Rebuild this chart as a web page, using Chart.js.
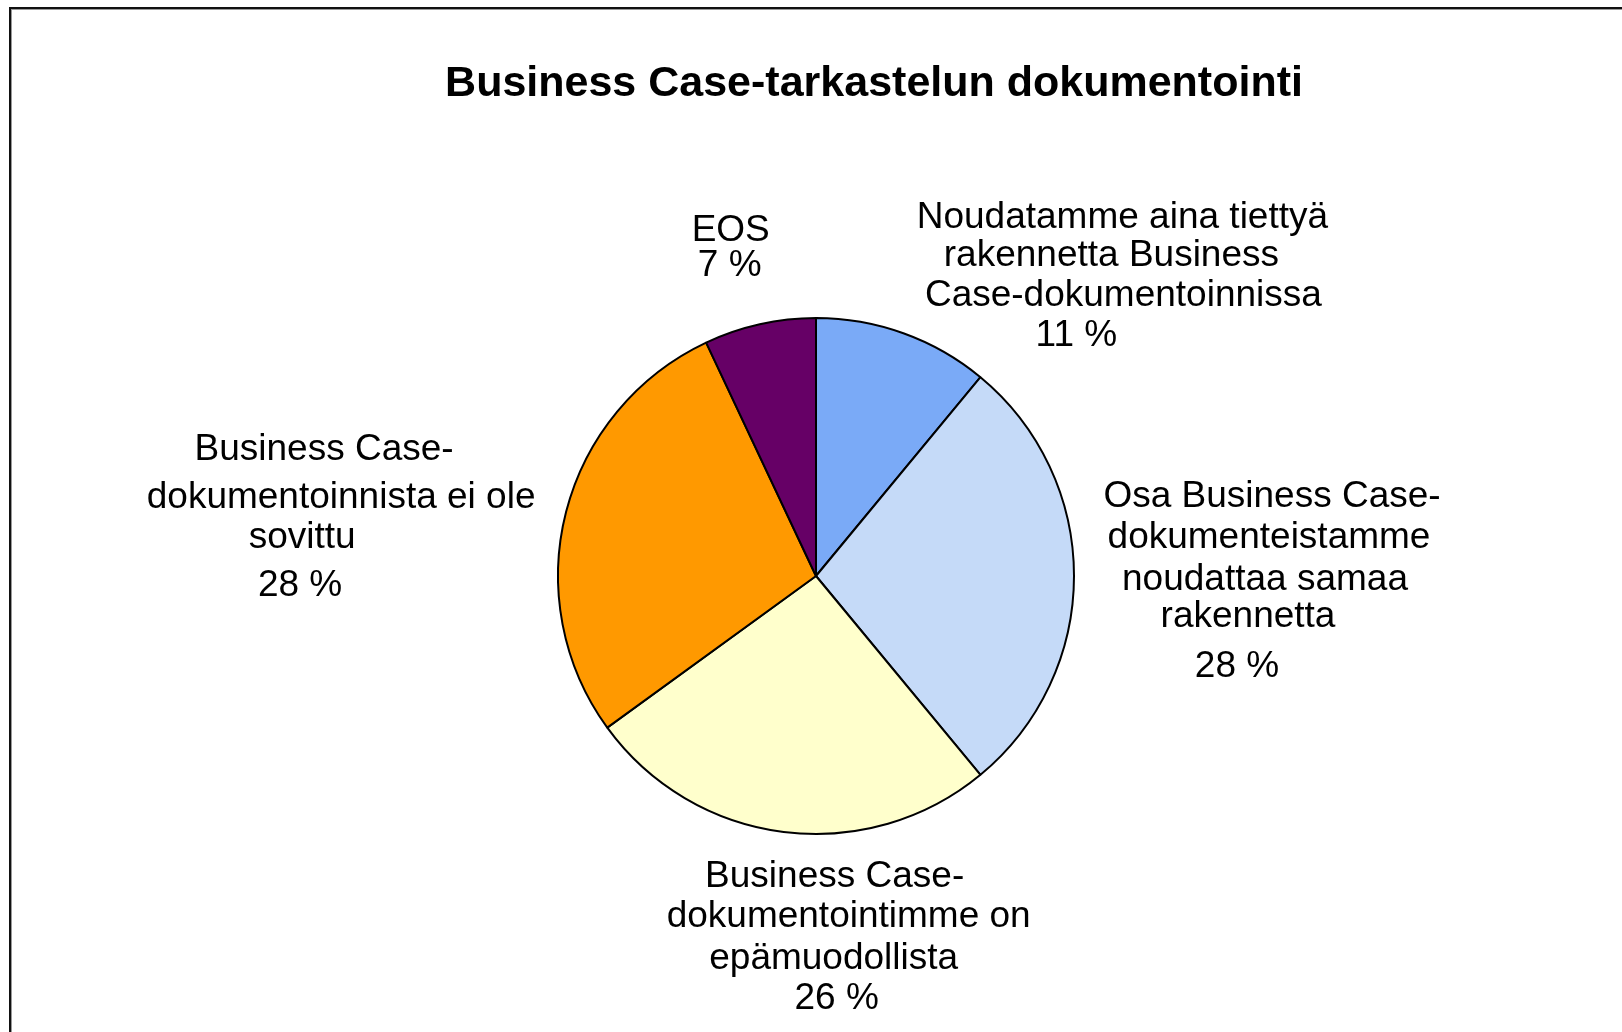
<!DOCTYPE html>
<html lang="fi">
<head>
<meta charset="utf-8">
<title>Business Case-tarkastelun dokumentointi</title>
<script src="https://cdn.jsdelivr.net/npm/chart.js@4.4.1/dist/chart.umd.min.js"></script>
<style>
  html, body { margin: 0; padding: 0; background: #fff; overflow: hidden; }
  #frame {
    position: absolute; left: 9px; top: 7px; width: 1700px; height: 1100px;
    border-left: 2px solid #111; border-top: 2px solid #111;
    box-shadow: inset 1px 1px 0 #999;
  }
  #wrap { position: absolute; left: 0; top: 0; width: 1622px; height: 1032px; }
</style>
</head>
<body>
<div id="frame"></div>
<div id="wrap"><canvas id="pie"></canvas></div>
<script>
const chartTitle = 'Business Case-tarkastelun dokumentointi';
const categories = [
  'Noudatamme aina tiettyä rakennetta Business Case-dokumentoinnissa',
  'Osa Business Case-dokumenteistamme noudattaa samaa rakennetta',
  'Business Case-dokumentointimme on epämuodollista',
  'Business Case-dokumentoinnista ei ole sovittu',
  'EOS'
];
const shares = [11, 28, 26, 28, 7];
// label text as it wraps in the picture
const labelLines = [
  ['Noudatamme aina tiettyä', 'rakennetta Business', 'Case-dokumentoinnissa'],
  ['Osa Business Case-', 'dokumenteistamme', 'noudattaa samaa', 'rakennetta'],
  ['Business Case-', 'dokumentointimme on', 'epämuodollista'],
  ['Business Case-', 'dokumentoinnista ei ole', 'sovittu'],
  ['EOS']
];
const sliceColors = ['#7AAAF7', '#C5DAF8', '#FFFFCC', '#FF9900', '#660066'];

// offsets of each label line (last one = percentage) from the slice's outer mid point
const labelNudges = [
  [[219, -105], [208, -67], [220, -27], [173, 13]],
  [[198, -69], [195, -28], [191, 14], [174, 51], [163, 101]],
  [[51, 55], [65, 95], [50, 137], [53, 177]],
  [[-242, -52], [-225, -4], [-264, 36], [-266, 84]],
  [[-29, -83], [-30, -48]]
];

const labelPlugin = {
  id: 'pieLabels',
  afterDraw(chart) {
    const ctx = chart.ctx;
    const area = chart.chartArea;
    ctx.save();
    ctx.fillStyle = '#000';
    ctx.textAlign = 'center';
    ctx.textBaseline = 'alphabetic';

    // title
    ctx.font = 'bold 43px "Liberation Sans", Arial, sans-serif';
    ctx.fillText(chartTitle, (area.left + area.right) / 2 + 58, 96);

    // slice labels
    ctx.font = '37px "Liberation Sans", Arial, sans-serif';
    const meta = chart.getDatasetMeta(0);
    meta.data.forEach((arc, i) => {
      const p = arc.getProps(['x', 'y', 'startAngle', 'endAngle', 'outerRadius'], true);
      const mid = (p.startAngle + p.endAngle) / 2;
      const ax = p.x + Math.cos(mid) * p.outerRadius;
      const ay = p.y + Math.sin(mid) * p.outerRadius;
      const lines = labelLines[i].concat([shares[i] + ' %']);
      lines.forEach((txt, j) => {
        const n = labelNudges[i][j];
        ctx.fillText(txt, ax + n[0], ay + n[1]);
      });
    });
    ctx.restore();
  }
};

new Chart(document.getElementById('pie'), {
  type: 'pie',
  data: {
    labels: categories,
    datasets: [{
      data: shares,
      backgroundColor: sliceColors,
      borderColor: '#000',
      borderWidth: 2
    }]
  },
  options: {
    responsive: true,
    maintainAspectRatio: false,
    animation: false,
    layout: {
      padding: { left: 557, right: 547, top: 317, bottom: 197 }
    },
    plugins: {
      legend: { display: false },
      title: { display: false },
      tooltip: { enabled: false }
    }
  },
  plugins: [labelPlugin]
});
</script>
</body>
</html>
